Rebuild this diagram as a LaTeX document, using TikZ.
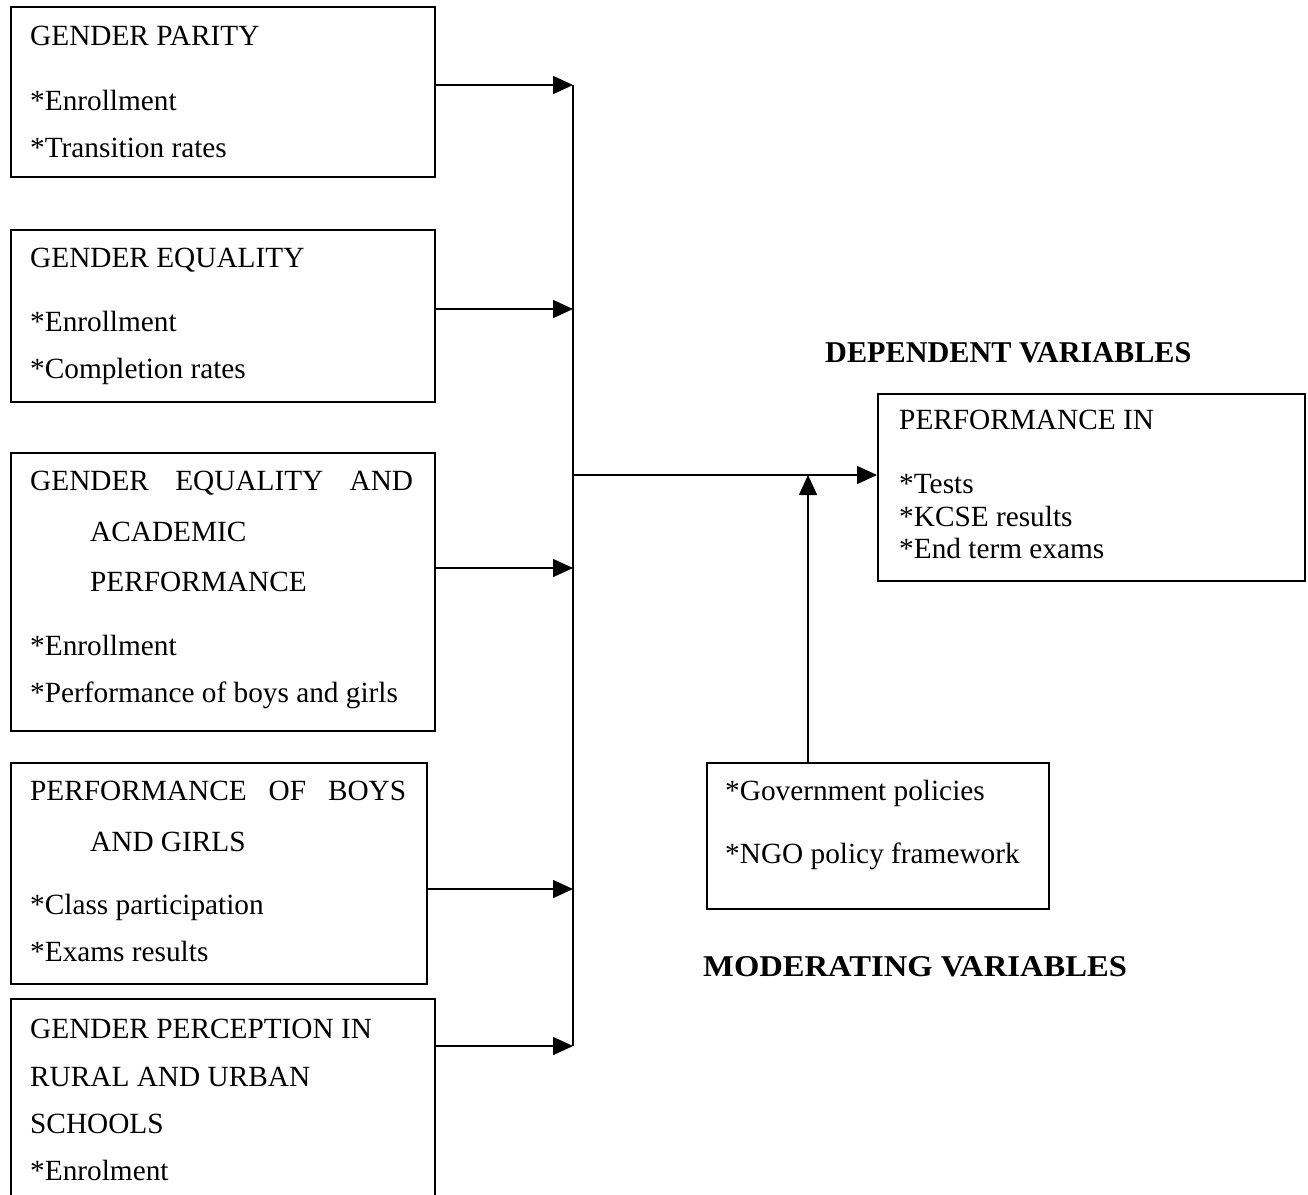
\documentclass[tikz,border=0pt]{standalone}
\usepackage{fontspec}
\setmainfont{Liberation Serif}
\usetikzlibrary{arrows.meta}
\tikzset{
  box/.style={draw, line width=1.6pt, anchor=north west, inner sep=0pt},
  txt/.style={anchor=base west, inner sep=0pt, font=\fontsize{29.3}{35}\selectfont},
  head/.style={anchor=base west, inner sep=0pt, font=\fontsize{30.2}{36}\selectfont\bfseries},
  arr/.style={line width=1.6pt, -{Triangle[length=20pt,width=18pt]}},
  ln/.style={line width=1.6pt}
}
\begin{document}
\begin{tikzpicture}[x=1pt,y=-1pt]
\useasboundingbox (0,0) rectangle (1308,1194);
\clip (0,0) rectangle (1308,1194);
% boxes
\node[box, minimum width=424pt, minimum height=170pt] (b1) at (10,6) {};
\node[box, minimum width=424pt, minimum height=172pt] (b2) at (10,229) {};
\node[box, minimum width=424pt, minimum height=278pt] (b3) at (10,452) {};
\node[box, minimum width=416pt, minimum height=221pt] (b4) at (10,762) {};
\node[box, minimum width=424pt, minimum height=230pt] (b5) at (10,998) {};
\node[box, minimum width=427pt, minimum height=187pt] (perf) at (877,393) {};
\node[box, minimum width=342pt, minimum height=146pt] (mod) at (706,762) {};
% texts
\node[txt] (t1a) at (30,45) {GENDER PARITY};
\node[txt] (t1b) at (30,110) {*Enrollment};
\node[txt] (t1c) at (30,157) {*Transition rates};
\node[txt] (t2a) at (30,267) {GENDER EQUALITY};
\node[txt] (t2b) at (30,331) {*Enrollment};
\node[txt] (t2c) at (30,378) {*Completion rates};
\node[txt] (t3a) at (30,490) {\hbox to 383pt{GENDER\hfill EQUALITY\hfill AND}};
\node[txt] (t3b) at (90,541) {ACADEMIC};
\node[txt] (t3c) at (90,591) {PERFORMANCE};
\node[txt] (t3d) at (30,655) {*Enrollment};
\node[txt] (t3e) at (30,702) {*Performance of boys and girls};
\node[txt] (t4a) at (30,800) {\hbox to 376pt{PERFORMANCE\hfill OF\hfill BOYS}};
\node[txt] (t4b) at (90,851) {AND GIRLS};
\node[txt] (t4c) at (30,914) {*Class participation};
\node[txt] (t4d) at (30,961) {*Exams results};
\node[txt] (t5a) at (30,1038) {GENDER PERCEPTION IN};
\node[txt] (t5b) at (30,1086) {RURAL AND URBAN};
\node[txt] (t5c) at (30,1133) {SCHOOLS};
\node[txt] (t5d) at (30,1180) {*Enrolment};
\node[txt] (tpa) at (899,429) {PERFORMANCE IN};
\node[txt] (tpb) at (899,493) {*Tests};
\node[txt] (tpc) at (899,526) {*KCSE results};
\node[txt] (tpd) at (899,558) {*End term exams};
\node[txt] (tma) at (725,800) {*Government policies};
\node[txt] (tmb) at (725,863) {*NGO policy framework};
\node[head] (hdep) at (825,362) {DEPENDENT VARIABLES};
\node[head] (hmod) at (703,976) {\scalebox{1.08}[1]{MODERATING VARIABLES}};
% junction coordinates
\coordinate (j1) at (573,85);
\coordinate (j2) at (573,309);
\coordinate (j3) at (573,568);
\coordinate (j4) at (573,889);
\coordinate (j5) at (573,1046);
\coordinate (jm) at (573,475);
\coordinate (jup) at (808,475);
% connectors
\draw[arr] (b1.east |- j1) -- (j1);
\draw[arr] (b2.east |- j2) -- (j2);
\draw[arr] (b3.east |- j3) -- (j3);
\draw[arr] (b4.east |- j4) -- (j4);
\draw[arr] (b5.east |- j5) -- (j5);
\draw[ln] (j1) -- (j5);
\draw[arr] (jm) -- (perf.west |- jm);
\draw[arr] (mod.north -| jup) -- (jup);
\end{tikzpicture}
\end{document}
